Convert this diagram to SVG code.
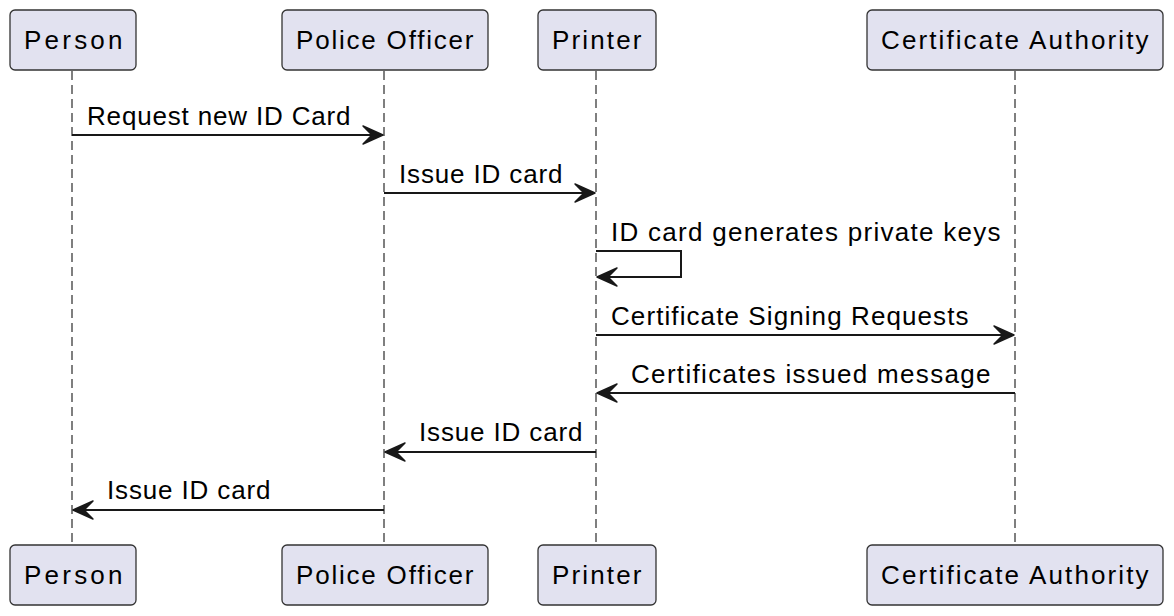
<svg xmlns="http://www.w3.org/2000/svg" width="1174" height="616" viewBox="0 0 1174 616">
<defs>
<style>
text{font-family:"Liberation Sans",Arial,sans-serif;font-size:26px;fill:#000;letter-spacing:0.5px}
.box{fill:#E2E2F0;stroke:#333;stroke-width:1.3}
.life{stroke:#555;stroke-width:1.5;stroke-dasharray:9,5;fill:none}
.msg{stroke:#181818;stroke-width:2;fill:none}
.head{fill:#181818;stroke:#181818;stroke-width:1.5;stroke-linejoin:round}
</style>
</defs>
<rect width="1174" height="616" fill="#fff"/>
<g id="lifelines">
<line class="life" x1="72" y1="71" x2="72" y2="545"/>
<line class="life" x1="384" y1="71" x2="384" y2="545"/>
<line class="life" x1="596" y1="71" x2="596" y2="545"/>
<line class="life" x1="1015" y1="71" x2="1015" y2="545"/>
</g>
<g id="person-top"><rect class="box" x="10" y="10" width="126" height="60" rx="5"/><text x="24" y="49" textLength="99">Person</text></g>
<g id="police-top"><rect class="box" x="282" y="10" width="206" height="60" rx="5"/><text x="296" y="49" textLength="178">Police Officer</text></g>
<g id="printer-top"><rect class="box" x="538" y="10" width="118" height="60" rx="5"/><text x="552" y="49" textLength="90">Printer</text></g>
<g id="ca-top"><rect class="box" x="867" y="10" width="296" height="60" rx="5"/><text x="881" y="49" textLength="268">Certificate Authority</text></g>
<g id="person-bottom"><rect class="box" x="10" y="545" width="126" height="60" rx="5"/><text x="24" y="584" textLength="99">Person</text></g>
<g id="police-bottom"><rect class="box" x="282" y="545" width="206" height="60" rx="5"/><text x="296" y="584" textLength="178">Police Officer</text></g>
<g id="printer-bottom"><rect class="box" x="538" y="545" width="118" height="60" rx="5"/><text x="552" y="584" textLength="90">Printer</text></g>
<g id="ca-bottom"><rect class="box" x="867" y="545" width="296" height="60" rx="5"/><text x="881" y="584" textLength="268">Certificate Authority</text></g>
<g id="connectors">
<line class="msg" x1="72" y1="135" x2="376" y2="135"/>
<polygon class="head" points="363,126 383,135 363,144 372,135"/>
<text x="87" y="125" textLength="264">Request new ID Card</text>
<line class="msg" x1="384" y1="193" x2="588" y2="193"/>
<polygon class="head" points="575,184 595,193 575,202 584,193"/>
<text x="399" y="183" textLength="164">Issue ID card</text>
<polyline class="msg" points="596,251 681,251 681,277 604,277"/>
<polygon class="head" points="617,268 597,277 617,286 608,277"/>
<text x="611" y="241" textLength="390">ID card generates private keys</text>
<line class="msg" x1="596" y1="335" x2="1007" y2="335"/>
<polygon class="head" points="994,326 1014,335 994,344 1003,335"/>
<text x="611" y="325" textLength="358">Certificate Signing Requests</text>
<line class="msg" x1="604" y1="393" x2="1015" y2="393"/>
<polygon class="head" points="617,384 597,393 617,402 608,393"/>
<text x="631" y="383" textLength="360">Certificates issued message</text>
<line class="msg" x1="392" y1="452" x2="596" y2="452"/>
<polygon class="head" points="405,443 385,452 405,461 396,452"/>
<text x="419" y="441" textLength="164">Issue ID card</text>
<line class="msg" x1="80" y1="510" x2="384" y2="510"/>
<polygon class="head" points="93,501 73,510 93,519 84,510"/>
<text x="107" y="499" textLength="164">Issue ID card</text>
</g>
</svg>
